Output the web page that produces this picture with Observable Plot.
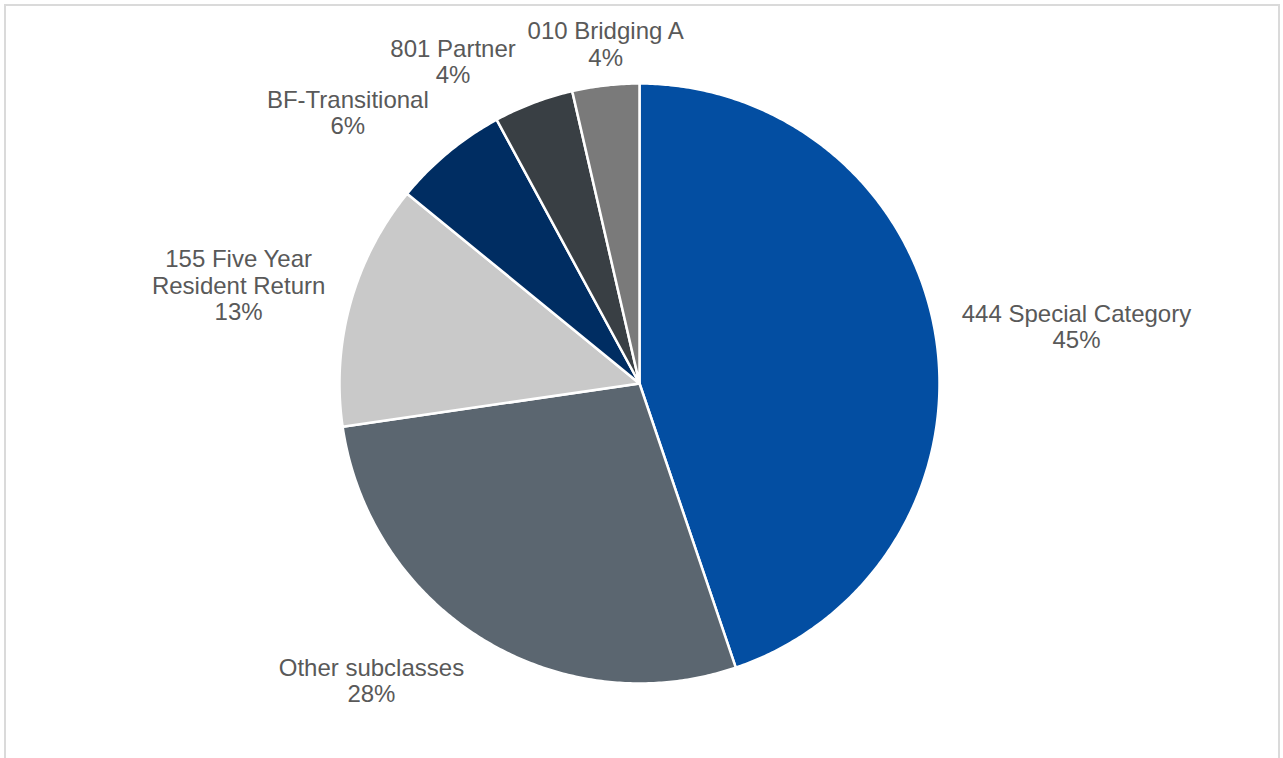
<!DOCTYPE html>
<html>
<head>
<meta charset="utf-8">
<script src="https://cdn.jsdelivr.net/npm/d3@7"></script>
<script src="https://cdn.jsdelivr.net/npm/@observablehq/plot@0.6"></script>
<style>
  html, body { margin: 0; padding: 0; background: #fff; overflow: hidden; }
  #wrap { position: relative; width: 1283px; height: 758px; }
  #frame { position: absolute; left: 4px; top: 4px; width: 1276px; height: 800px;
           border: 2px solid #dadada; box-sizing: border-box; pointer-events: none; }
  #chart { position: absolute; left: 0; top: 0; }
</style>
</head>
<body>
<div id="wrap"><div id="chart"></div><div id="frame"></div></div>
<script>
// ---- data ----
const categories = ["444 Special Category", "Other subclasses", "155 Five Year\nResident Return", "BF-Transitional", "801 Partner", "010 Bridging A"];
const values = [44.8, 27.9, 13.2, 6.2, 4.3, 3.6];
const colors = ["#034EA2", "#5B6670", "#C9C9C9", "#002D62", "#393F44", "#7A7A7A"];

// ---- layout helpers ----
const R_PX = 300;            // pixel radius
const FONT = "Liberation Sans, Arial, sans-serif";
const FS = 24, LH = 1.1;
const total = d3.sum(values);
const pie = d3.pie().sort(null).startAngle(0).endAngle(2 * Math.PI)(values);

// slice outlines in data units (x = sin, y = cos, radius 1)
const pts = [];
pie.forEach((p, i) => {
  const name = categories[i];
  pts.push({name, x: 0, y: 0});
  const n = Math.max(2, Math.ceil((p.endAngle - p.startAngle) / (Math.PI / 360)));
  for (let k = 0; k <= n; k++) {
    const a = p.startAngle + (p.endAngle - p.startAngle) * k / n;
    pts.push({name, x: Math.sin(a), y: Math.cos(a)});
  }
  pts.push({name, x: 0, y: 0});
});

// label placement: box outside the arc at the slice's mid angle
const ctx = document.createElement("canvas").getContext("2d");
ctx.font = `${FS}px ${FONT}`;
const clamp = (v, a, b) => Math.max(a, Math.min(b, v));
const labels = pie.map((p, i) => {
  const text = categories[i] + "\n" + Math.round(p.value / total * 100) + "%";
  const lines = text.split("\n");
  const w = d3.max(lines, l => ctx.measureText(l).width);
  const h = lines.length * FS * LH;
  const a = (p.startAngle + p.endAngle) / 2;
  const dx = Math.sin(a), dy = Math.cos(a);
  const fx = Math.sign(dx) * clamp((Math.abs(dx) - 0.12) / 0.2, 0, 1);
  const fy = clamp(1.25 * dy, -1, 1);
  const gx = 17 + 11 * (1 - Math.abs(dy));
  const x = dx + fx * (w / 2 + gx) / R_PX;
  const y = dy + fy * (h / 2 + 15) / R_PX;
  return {text, x, y};
});

const chart = Plot.plot({
  width: 1283,
  height: 758,
  margin: 0,
  style: {background: "transparent"},
  x: {domain: [-1, 1], range: [339, 939], axis: null},
  y: {domain: [-1, 1], range: [683, 83], axis: null},
  color: {domain: categories, range: colors},
  marks: [
    Plot.line(pts, {x: "x", y: "y", z: "name", fill: "name", stroke: "white", strokeWidth: 2.5, strokeLinejoin: "round"}),
    Plot.text(labels, {x: "x", y: "y", text: "text", fontSize: FS, lineHeight: LH, fill: "#595959",
      fontFamily: FONT, textAnchor: "middle", lineAnchor: "middle"})
  ]
});
document.getElementById("chart").appendChild(chart);
</script>
</body>
</html>
